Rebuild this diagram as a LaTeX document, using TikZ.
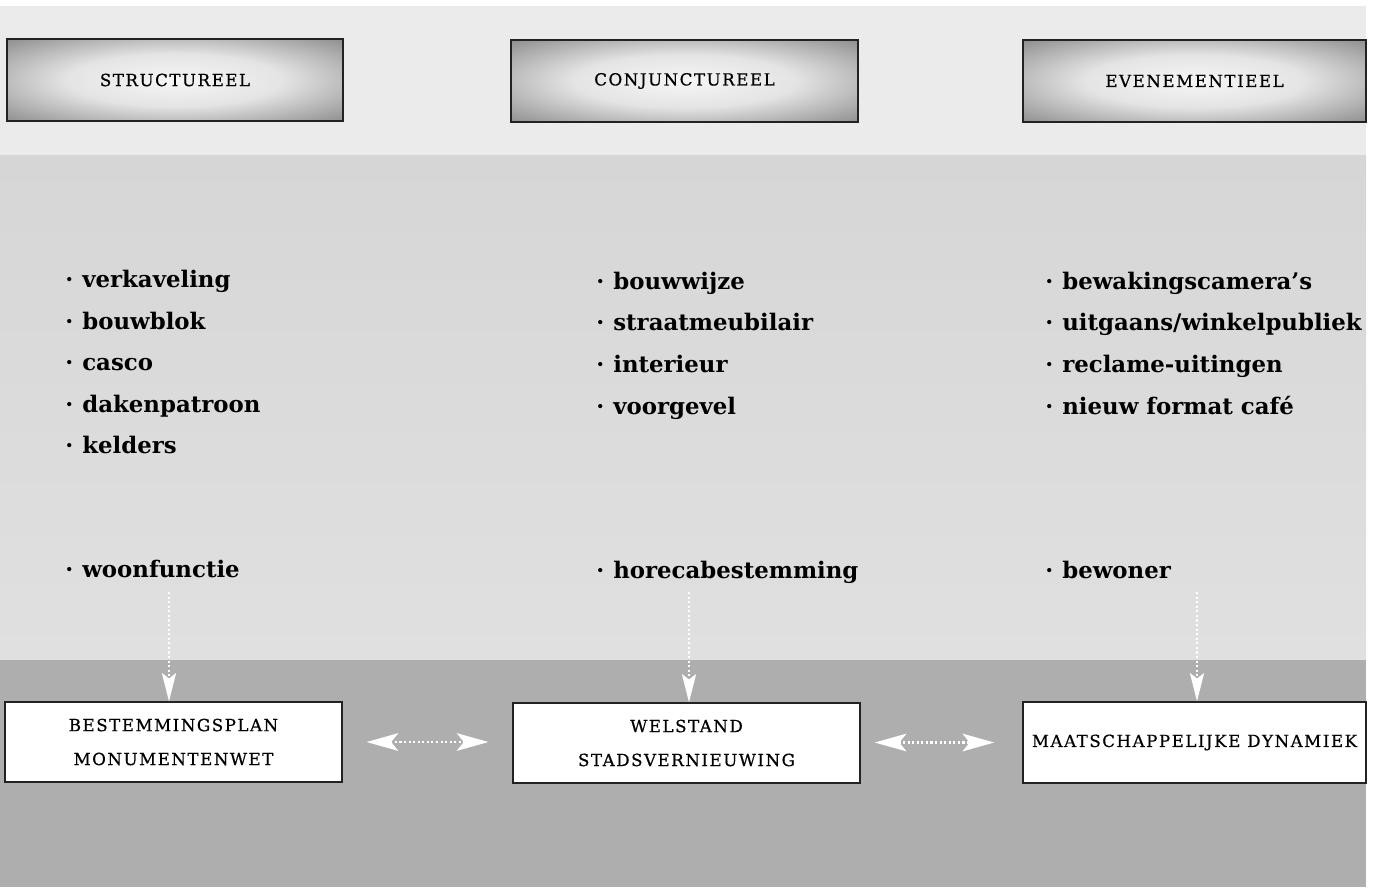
\documentclass[tikz,border=0pt]{standalone}
\usepackage{fontspec}
\setmainfont{DejaVu Serif}
\newfontfamily\capsfont[LetterSpace=9,FakeBold=0.6]{DejaVu Serif}
\usetikzlibrary{arrows.meta}
\definecolor{hcA}{HTML}{F6F6F6}
\definecolor{hcB}{HTML}{E4E4E4}
\definecolor{hcC}{HTML}{8C8C8C}
\definecolor{hcD}{HTML}{505050}
\definecolor{topband}{HTML}{EBEBEB}
\definecolor{midtop}{HTML}{D6D6D6}
\definecolor{midbot}{HTML}{E0E0E0}
\definecolor{lowband}{HTML}{AEAEAE}
\definecolor{boxline}{HTML}{222222}
\pgfdeclareradialshading{hdrshade}{\pgfpoint{0bp}{0bp}}{color(0bp)=(hcA); color(16bp)=(hcB); color(36bp)=(hcC); color(50bp)=(hcD)}
\newcommand\bitem{\makebox[0.34cm][l]{·}}
\begin{document}
\begin{tikzpicture}[x=0.02cm,y=-0.02cm,
  hdr/.style={draw=boxline, line width=0.8pt, shading=hdrshade, inner sep=0pt,
    minimum height=1.64cm, font=\capsfont\fontsize{9.5}{12}\selectfont},
  lowbox/.style={draw=boxline, line width=0.8pt, fill=white, inner sep=0pt,
    minimum height=1.6cm, align=center, font=\capsfont\fontsize{9.5}{19.3}\selectfont},
  item/.style={anchor=base west, inner sep=0pt, font=\bfseries\fontsize{13}{15}\selectfont},
  varrow/.style={draw=white, line width=1.3pt, dash pattern=on 1.2pt off 1.4pt,
    -{Stealth[length=16pt, width=8pt, inset=3pt, fill=white]}},
  harrow/.style={draw=white, line width=1.3pt, dash pattern=on 1.2pt off 1.4pt,
    {Stealth[length=18pt, width=10pt, inset=4pt, fill=white]}-{Stealth[length=18pt, width=10pt, inset=4pt, fill=white]}}
]
\useasboundingbox (0,0) rectangle (1375,887);
\fill[white] (0,0) rectangle (1375,887);
\fill[topband] (0,6) rectangle (1366,155);
\shade[top color=midtop, bottom color=midbot] (0,155) rectangle (1366,660);
\fill[lowband] (0,660) rectangle (1366,887);

% headers
\node[hdr, minimum width=6.72cm] (h1) at (175,80) {STRUCTUREEL};
\node[hdr, minimum width=6.94cm] (h2) at (684.5,81) {CONJUNCTUREEL};
\node[hdr, minimum width=6.86cm] (h3) at (1194.5,81) {EVENEMENTIEEL};

% left list
\node[item] (l1) at (65,287) {\bitem verkaveling};
\node[item] (l2) at (65,329) {\bitem bouwblok};
\node[item] (l3) at (65,370) {\bitem casco};
\node[item] (l4) at (65,412) {\bitem dakenpatroon};
\node[item] (l5) at (65,453) {\bitem kelders};
\node[item] (lw) at (65,577) {\bitem woonfunctie};

% middle list
\node[item] (m1) at (596,289) {\bitem bouwwijze};
\node[item] (m2) at (596,330) {\bitem straatmeubilair};
\node[item] (m3) at (596,372) {\bitem interieur};
\node[item] (m4) at (596,414) {\bitem voorgevel};
\node[item] (mh) at (596,578) {\bitem horecabestemming};

% right list
\node[item] (r1) at (1045,289) {\bitem bewakingscamera's};
\node[item] (r2) at (1045,330) {\bitem uitgaans/winkelpubliek};
\node[item] (r3) at (1045,372) {\bitem reclame-uitingen};
\node[item] (r4) at (1045,414) {\bitem nieuw format café};
\node[item] (rb) at (1045,578) {\bitem bewoner};

% bottom boxes
\node[lowbox, minimum width=6.74cm] (b1) at (173.5,742) {BESTEMMINGSPLAN\\MONUMENTENWET};
\node[lowbox, minimum width=6.94cm] (b2) at (686.5,743) {WELSTAND\\STADSVERNIEUWING};
\node[lowbox, minimum width=6.86cm, minimum height=1.62cm] (b3) at (1194.5,742.5) {MAATSCHAPPELIJKE DYNAMIEK};

% vertical connectors
\coordinate (a1) at (169,592);
\coordinate (a2) at (689,592);
\coordinate (a3) at (1197,592);
\draw[varrow] (a1) -- (a1 |- b1.north);
\draw[varrow] (a2) -- (a2 |- b2.north);
\draw[varrow] (a3) -- (a3 |- b3.north);

% horizontal connectors
\draw[harrow, shorten <=13.6pt, shorten >=13.6pt] (b1.east) -- (b1.east -| b2.west);
\draw[harrow, shorten <=8pt, shorten >=16pt] (b2.east |- b3.west) -- (b3.west);
\end{tikzpicture}
\end{document}
